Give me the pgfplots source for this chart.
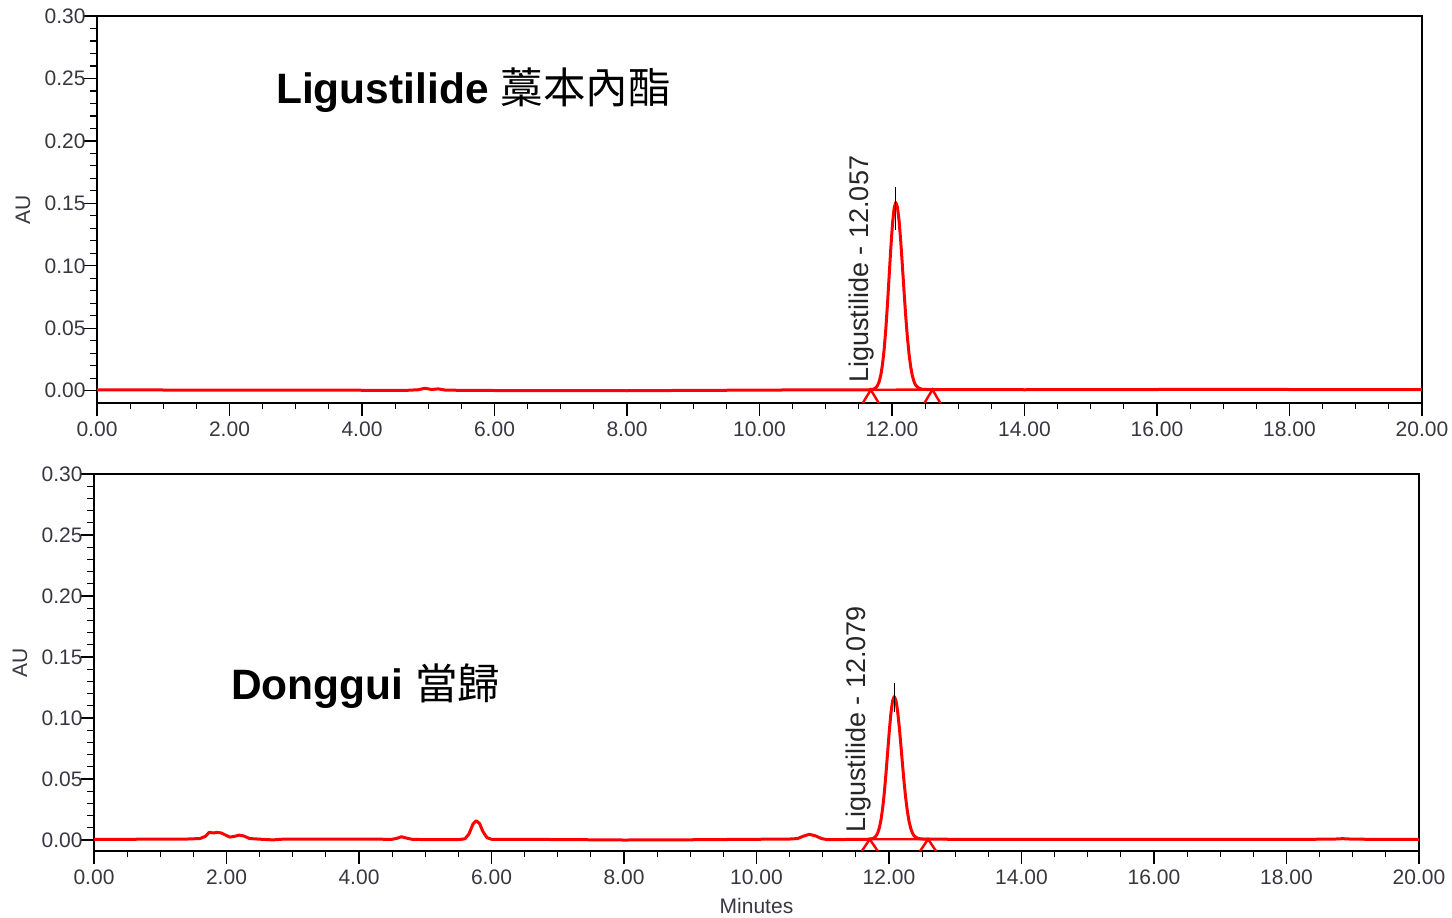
\documentclass[border=0pt]{standalone}
\usepackage{pgfplots}
\pgfplotsset{compat=1.18}
\usepackage{fontspec}
\setmainfont{Liberation Sans}
\newfontfamily\cjk{Noto Sans CJK TC}

\definecolor{ticktext}{RGB}{55,55,65}
\definecolor{tracered}{RGB}{255,0,0}

\pgfkeys{/pgf/number format/.cd, fixed, fixed zerofill, precision=2, assume math mode=true}

\tikzset{
  chromtrace/.style={tracered, line width=3pt, line join=round},
  intmark/.style={tracered, line width=2.4pt},
  apex/.style={black, line width=1.1pt},
  peaklabel/.style={rotate=90, anchor=base west, inner sep=0pt,
    font=\fontsize{27}{30}\selectfont, text=black!85},
  sampletitle/.style={anchor=base west, inner sep=0pt, font=\fontsize{42.5}{48}\selectfont},
}

\pgfplotsset{
  chrom/.style={
    scale only axis,
    width=1325pt,
    xmin=0, xmax=20,
    ymax=0.30,
    xtick={0,2,...,20},
    ytick={0,0.05,0.10,0.15,0.20,0.25,0.30},
    minor x tick num=3,
    minor y tick num=4,
    scaled ticks=false,
    tick pos=left,
    tick align=outside,
    major tick length=13pt,
    minor tick length=6.5pt,
    every tick/.style={black, line width=1.2pt},
    axis line style={black, line width=1.4pt},
    tick label style={font=\fontsize{21}{25}\selectfont, text=ticktext},
    xticklabel style={yshift=-2pt},
    yticklabel style={xshift=5pt},
    label style={font=\fontsize{21}{25}\selectfont, text=ticktext},
    ylabel={AU},
    ylabel style={at={([xshift=-74pt]axis description cs:0,0.5)}, anchor=center},
  },
}

\begin{document}
\begin{tikzpicture}[x=1pt,y=1pt]
\useasboundingbox (0,0) rectangle (1452,918);

% ---------------- Ligustilide standard ----------------
\begin{axis}[chrom, at={(97pt,515pt)}, anchor=south west,
  height=387pt, ymin=-0.0098]
\addplot[chromtrace] coordinates {
(0.00,0.0008) (0.5,0.0007) (1.0,0.0006) (2.0,0.0005) (3.0,0.0005)
(4.0,0.0004) (4.7,0.0004) (4.85,0.0008) (4.95,0.0020) (5.05,0.0010)
(5.15,0.0015) (5.25,0.0006) (5.5,0.0003) (6.0,0.0002) (7.0,0.0001)
(8.0,0.0000) (9.0,0.0003) (10.0,0.0005) (11.0,0.0008) (11.5,0.0008)
(11.657,0.0008) (11.707,0.0011) (11.732,0.0016) (11.757,0.0025)
(11.782,0.0042) (11.807,0.0074) (11.832,0.0127) (11.857,0.0211)
(11.882,0.0332) (11.907,0.0495) (11.932,0.0695) (11.957,0.0918)
(11.982,0.1140) (12.007,0.1332) (12.032,0.1462) (12.057,0.1508)
(12.082,0.1470) (12.107,0.1361) (12.132,0.1197) (12.157,0.1000)
(12.182,0.0794) (12.207,0.0600) (12.232,0.0431) (12.257,0.0295)
(12.282,0.0193) (12.307,0.0121) (12.332,0.0074) (12.357,0.0044)
(12.407,0.0020) (12.457,0.0012) (12.557,0.0009) (13.0,0.0009)
(14.0,0.0008) (15.0,0.0009) (16.0,0.0010) (17.0,0.0011) (18.0,0.0010)
(19.0,0.0009) (20.0,0.0009)
};
% integration baseline and start/end markers
\addplot[intmark] coordinates {(11.68,0.0008) (12.61,0.0009)};
\addplot[intmark] coordinates {(11.56,-0.0098) (11.68,0.0008) (11.80,-0.0098)};
\addplot[intmark] coordinates {(12.49,-0.0098) (12.61,0.0009) (12.73,-0.0098)};
% apex tick
\addplot[apex] coordinates {(12.057,0.129) (12.057,0.163)};
\node[peaklabel] at (axis cs:11.65,0.0064) {Ligustilide - 12.057};
\end{axis}

% ---------------- Donggui sample ----------------
\begin{axis}[chrom, at={(94pt,67pt)}, anchor=south west,
  height=377pt, ymin=-0.009,
  xlabel={Minutes},
  xlabel style={at={([yshift=-55pt]axis description cs:0.5,0)}, anchor=center}]
\addplot[chromtrace] coordinates {
(0.00,0.0006) (0.5,0.0006) (1.0,0.0007) (1.4,0.0008) (1.6,0.0012)
(1.68,0.0030) (1.74,0.0063) (1.80,0.0058) (1.86,0.0062) (1.92,0.0058)
(1.98,0.0042) (2.05,0.0024) (2.12,0.0030) (2.19,0.0040) (2.26,0.0033)
(2.35,0.0012) (2.5,0.0007) (2.7,0.0001) (2.85,0.0007) (3.0,0.0008)
(3.5,0.0008) (4.0,0.0007) (4.5,0.0006) (4.58,0.0015) (4.64,0.0027)
(4.70,0.0018) (4.8,0.0006) (5.0,0.0003) (5.5,0.0003) (5.6,0.0010)
(5.66,0.0050) (5.72,0.0130) (5.77,0.0158) (5.82,0.0135) (5.87,0.0070)
(5.93,0.0020) (6.0,0.0006) (6.5,0.0005) (7.0,0.0004) (8.0,0.0000)
(9.0,0.0002) (10.0,0.0006) (10.5,0.0008) (10.62,0.0012) (10.70,0.0030)
(10.80,0.0047) (10.90,0.0032) (10.98,0.0012) (11.06,0.0004) (11.3,0.0004)
(11.5,0.0005)
(11.679,0.0006) (11.729,0.0009) (11.754,0.0012) (11.779,0.0019)
(11.804,0.0033) (11.829,0.0057) (11.854,0.0099) (11.879,0.0164)
(11.904,0.0259) (11.929,0.0386) (11.954,0.0542) (11.979,0.0716)
(12.004,0.0889) (12.029,0.1039) (12.054,0.1140) (12.079,0.1176)
(12.104,0.1146) (12.129,0.1061) (12.154,0.0933) (12.179,0.0780)
(12.204,0.0619) (12.229,0.0468) (12.254,0.0336) (12.279,0.0230)
(12.304,0.0150) (12.329,0.0094) (12.354,0.0057) (12.379,0.0034)
(12.429,0.0015) (12.479,0.0009) (12.579,0.0007)
(13.0,0.0006) (14.0,0.0006) (15.0,0.0006) (16.0,0.0006) (17.0,0.0005)
(18.0,0.0005) (18.7,0.0007) (18.85,0.0011) (19.0,0.0007) (19.5,0.0005)
(20.0,0.0005)
};
\addplot[intmark] coordinates {(11.71,0.0006) (12.59,0.0007)};
\addplot[intmark] coordinates {(11.59,-0.009) (11.71,0.0006) (11.83,-0.009)};
\addplot[intmark] coordinates {(12.47,-0.009) (12.59,0.0007) (12.71,-0.009)};
\addplot[apex] coordinates {(12.079,0.105) (12.079,0.129)};
\node[peaklabel] at (axis cs:11.64,0.0057) {Ligustilide - 12.079};
\end{axis}

% sample titles
\node[sampletitle] at (276,814) {\textbf{Ligustilide} {\cjk 藁本內酯}};
\node[sampletitle] at (231,218) {\textbf{Donggui} {\cjk 當歸}};
\end{tikzpicture}
\end{document}
